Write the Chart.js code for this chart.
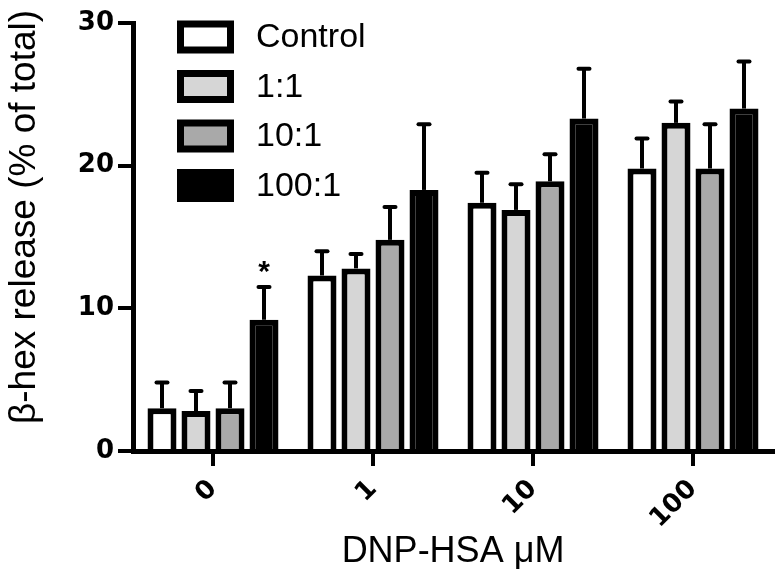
<!DOCTYPE html>
<html>
<head>
<meta charset="utf-8">
<script src="https://cdn.jsdelivr.net/npm/chart.js@4/dist/chart.umd.min.js"></script>
<style>
  html, body { margin: 0; padding: 0; background: #ffffff; }
  #wrap { width: 780px; height: 584px; }
</style>
</head>
<body>
<div id="wrap"><canvas id="c" width="780" height="584"></canvas></div>
<script>
// ---- data ----
const categories = ['0', '1', '10', '100'];
const seriesNames = ['Control', '1:1', '10:1', '100:1'];
const controlVals = [3.0, 12.3, 17.4, 19.8];
const controlErr  = [1.8, 1.7, 2.1, 2.1];
const ratio1Vals  = [2.8, 12.8, 16.9, 23.0];
const ratio1Err   = [1.4, 1.0, 1.8, 1.5];
const ratio10Vals = [3.0, 14.8, 18.9, 19.8];
const ratio10Err  = [1.8, 2.3, 1.9, 3.1];
const ratio100Vals = [9.2, 18.3, 23.3, 24.0];
const ratio100Err  = [2.3, 4.6, 3.5, 3.3];
const ratio100Sig  = ['*', '', '', ''];
const yTicks = [0, 10, 20, 30];
const yTitle = 'β-hex release (% of total)';
const xTitle = 'DNP-HSA μM';

const fills = ['#ffffff', '#d6d6d6', '#a9a9a9', '#000000'];
const valsList = [controlVals, ratio1Vals, ratio10Vals, ratio100Vals];
const errList = [controlErr, ratio1Err, ratio10Err, ratio100Err];
const sigList = [null, null, null, ratio100Sig];

const datasets = seriesNames.map((name, i) => ({
  label: name,
  data: valsList[i],
  errors: errList[i],
  marks: sigList[i],
  backgroundColor: fills[i],
  borderColor: '#000000',
  borderWidth: 6,
  borderSkipped: 'start',
  categoryPercentage: 0.85,
  barPercentage: 0.853
}));

const SANS = '"Liberation Sans", Arial, sans-serif';
const TICKFONT = { family: '"DejaVu Sans", sans-serif', size: 26, weight: 'bold' };

const errorBarPlugin = {
  id: 'errorBars',
  afterDatasetsDraw(chart) {
    const ctx = chart.ctx;
    const y = chart.scales.y;
    ctx.save();
    ctx.strokeStyle = '#000';
    ctx.fillStyle = '#000';
    chart.data.datasets.forEach((ds, di) => {
      const meta = chart.getDatasetMeta(di);
      meta.data.forEach((bar, i) => {
        const top = y.getPixelForValue(ds.data[i] + ds.errors[i]);
        ctx.lineWidth = 4;
        ctx.lineCap = 'butt';
        ctx.beginPath();
        ctx.moveTo(bar.x, bar.y);
        ctx.lineTo(bar.x, top);
        ctx.stroke();
        ctx.lineCap = 'round';
        ctx.beginPath();
        ctx.moveTo(bar.x - 5.5, top);
        ctx.lineTo(bar.x + 5.5, top);
        ctx.stroke();
        if (ds.marks && ds.marks[i]) {
          ctx.font = 'bold 30px ' + SANS;
          ctx.textAlign = 'center';
          ctx.textBaseline = 'alphabetic';
          ctx.fillText(ds.marks[i], bar.x, top - 6);
        }
      });
    });
    ctx.restore();
  }
};

const legendPlugin = {
  id: 'insideLegend',
  afterDraw(chart) {
    const ctx = chart.ctx;
    ctx.save();
    chart.data.datasets.forEach((ds, i) => {
      const cy = 37 + i * 49.5;
      const x0 = 177, w = 57, h = 33, b = 7;
      ctx.fillStyle = '#000';
      ctx.fillRect(x0, cy - h / 2, w, h);
      ctx.fillStyle = ds.backgroundColor;
      ctx.fillRect(x0 + b, cy - h / 2 + b, w - 2 * b, h - 2 * b);
      ctx.fillStyle = '#000';
      ctx.font = '34px ' + SANS;
      ctx.textAlign = 'left';
      ctx.textBaseline = 'middle';
      ctx.fillText(ds.label, 256, cy + 1);
    });
    ctx.restore();
  }
};

const yTitlePlugin = {
  id: 'yTitle',
  afterDraw(chart) {
    const ctx = chart.ctx;
    ctx.save();
    ctx.translate(25, 217);
    ctx.rotate(-Math.PI / 2);
    ctx.fillStyle = '#000';
    ctx.font = '37px ' + SANS;
    ctx.textAlign = 'center';
    ctx.textBaseline = 'middle';
    ctx.fillText(yTitle, 0, 0);
    ctx.restore();
  }
};

new Chart(document.getElementById('c'), {
  type: 'bar',
  data: { labels: categories, datasets: datasets },
  options: {
    responsive: false,
    animation: false,
    layout: { padding: { left: 0, right: 7, top: 23, bottom: 0 } },
    plugins: {
      legend: { display: false },
      tooltip: { enabled: false }
    },
    scales: {
      x: {
        offset: true,
        afterFit(scale) { scale.height = 133; },
        grid: {
          display: true, offset: false, drawOnChartArea: false, drawTicks: true,
          tickLength: 15, tickWidth: 4, tickColor: '#000', lineWidth: 4, color: '#000'
        },
        border: { display: true, color: '#000', width: 5 },
        ticks: {
          color: '#000', minRotation: 45, maxRotation: 45, padding: 8,
          font: TICKFONT
        },
        title: {
          display: true, text: xTitle, color: '#000',
          font: { family: SANS, size: 36 }, padding: { top: 0, bottom: 10 }
        }
      },
      y: {
        min: 0, max: 30,
        afterFit(scale) { scale.width = 133; },
        afterBuildTicks(scale) { scale.ticks = yTicks.map(v => ({ value: v })); },
        grid: {
          display: true, drawOnChartArea: false, drawTicks: true,
          tickLength: 15, tickWidth: 4, tickColor: '#000', lineWidth: 4, color: '#000'
        },
        border: { display: true, color: '#000', width: 5 },
        ticks: {
          color: '#000', padding: 4,
          font: TICKFONT
        }
      }
    }
  },
  plugins: [errorBarPlugin, legendPlugin, yTitlePlugin]
});
</script>
</body>
</html>
